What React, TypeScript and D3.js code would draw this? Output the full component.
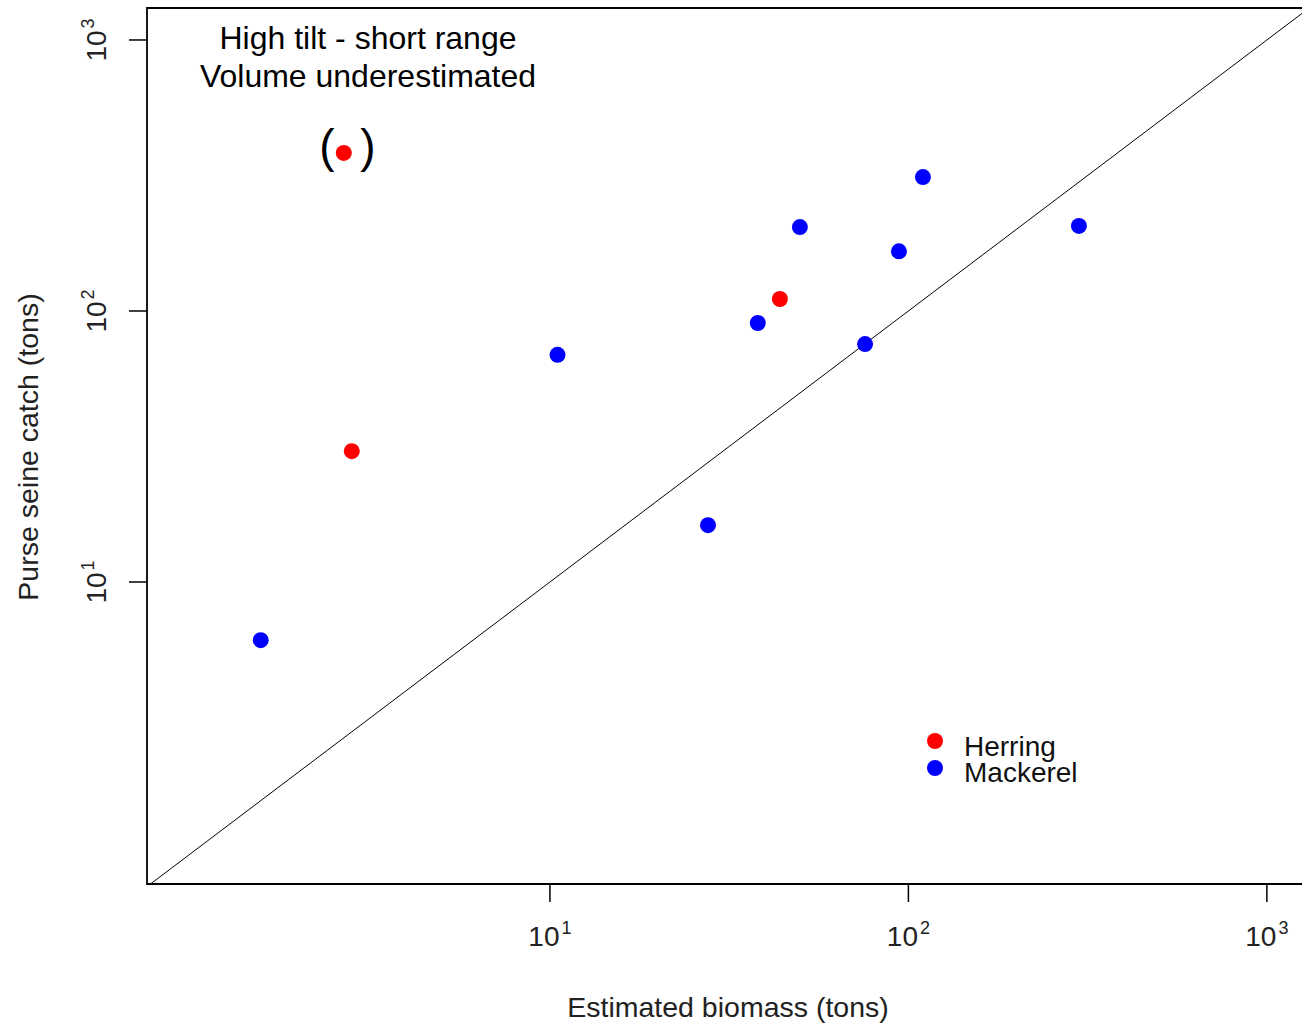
import React from "react";
import * as d3 from "d3";

const herringX = [2.66, 2.8, 43.8];
const herringY = [383, 30.4, 110.7];
const mackerelX = [1.56, 10.5, 27.6, 38.0, 49.8, 75.7, 94.1, 109.8, 299];
const mackerelY = [6.1, 68.9, 16.2, 90.3, 204, 75.5, 166, 312, 206];
const tickExps = [1, 2, 3];
const legendLabels = ["Herring", "Mackerel"];
const legendColors = ["#ff0000", "#0000ff"];
const annotationLines = ["High tilt - short range", "Volume underestimated"];

const W = 1302;
const H = 1024;
const left = 147, top = 8, bottom = 884, right = 1302;

export default function App() {
  const x = d3.scaleLog().domain([Math.pow(10, -0.1241), Math.pow(10, 3.098)]).range([left, right]);
  const y = d3.scaleLog().domain([Math.pow(10, -0.1144), Math.pow(10, 3.118)]).range([bottom, top]);
  const font = "'Liberation Sans', Arial, sans-serif";
  const lineLo = Math.pow(10, -0.13);
  const lineHi = Math.pow(10, 3.2);
  const diag = d3.line<number>().x((d) => x(d)).y((d) => y(d));
  const herring = herringX.map((v, i) => [v, herringY[i]]);
  const mackerel = mackerelX.map((v, i) => [v, mackerelY[i]]);
  return (
    <svg width={W} height={H} style={{ position: "absolute", left: 0, top: 0, background: "#fff" }} fontFamily={font}>
      <defs>
        <clipPath id="plot">
          <rect x={left} y={top} width={right - left + 10} height={bottom - top} />
        </clipPath>
      </defs>
      <g clipPath="url(#plot)">
        <path d={diag([lineLo, lineHi]) || ""} stroke="#000" strokeWidth={1} fill="none" />
      </g>
      {/* frame */}
      <path d={`M${right + 5},${top}H${left}V${bottom}H${right + 5}`} stroke="#000" strokeWidth={1.8} fill="none" />
      {/* y ticks */}
      {tickExps.map((e) => (
        <g key={"y" + e}>
          <line x1={left - 18} x2={left} y1={y(Math.pow(10, e))} y2={y(Math.pow(10, e))} stroke="#000" strokeWidth={1.5} />
          <text transform={`translate(${106},${y(Math.pow(10, e))}) rotate(-90)`} textAnchor="middle" fontSize={28} fill="#222">
            10<tspan dy={-12} dx={2} fontSize={18}>{e}</tspan>
          </text>
        </g>
      ))}
      {/* x ticks */}
      {tickExps.map((e) => (
        <g key={"x" + e}>
          <line x1={x(Math.pow(10, e))} x2={x(Math.pow(10, e))} y1={bottom} y2={bottom + 18} stroke="#000" strokeWidth={1.5} />
          <text x={x(Math.pow(10, e))} y={946} textAnchor="middle" fontSize={28} fill="#222">
            10<tspan dy={-12} dx={2} fontSize={18}>{e}</tspan>
          </text>
        </g>
      ))}
      <text x={728} y={1017} textAnchor="middle" fontSize={28.5} fill="#222">Estimated biomass (tons)</text>
      <text transform={`translate(38,447) rotate(-90)`} textAnchor="middle" fontSize={28.5} fill="#222">Purse seine catch (tons)</text>
      {/* points */}
      {herring.map((d, i) => (
        <circle key={"h" + i} cx={x(d[0])} cy={y(d[1])} r={8} fill={legendColors[0]} />
      ))}
      {mackerel.map((d, i) => (
        <circle key={"m" + i} cx={x(d[0])} cy={y(d[1])} r={8} fill={legendColors[1]} />
      ))}
      {/* annotation */}
      {annotationLines.map((t, i) => (
        <text key={t} x={368} y={49 + i * 38} textAnchor="middle" fontSize={32} fill="#000">{t}</text>
      ))}
      <text x={327} y={162} textAnchor="middle" fontSize={46} fill="#000">(</text>
      <text x={368} y={162} textAnchor="middle" fontSize={46} fill="#000">)</text>
      {/* legend */}
      {legendLabels.map((l, i) => (
        <g key={l}>
          <circle cx={935} cy={741 + i * 27} r={8} fill={legendColors[i]} />
          <text x={964} y={756 + i * 26} fontSize={28} fill="#111">{l}</text>
        </g>
      ))}
    </svg>
  );
}
